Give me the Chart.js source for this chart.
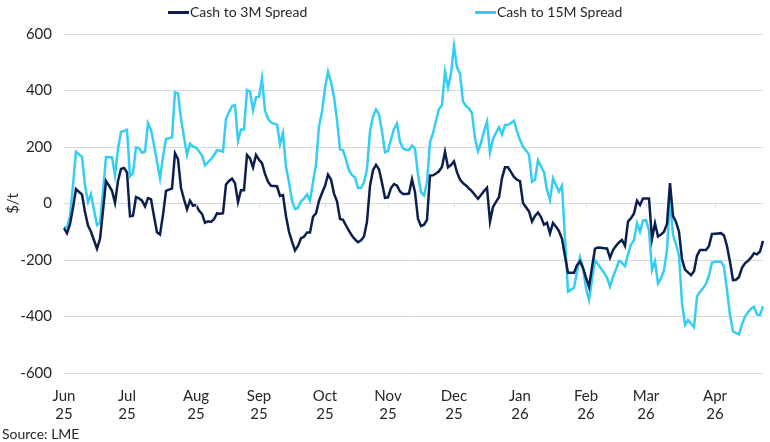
<!DOCTYPE html>
<html>
<head>
<meta charset="utf-8">
<script src="https://cdn.jsdelivr.net/npm/chart.js@4.4.1/dist/chart.umd.min.js"></script>
<style>
  body { margin: 0; background: #fff; }
  #wrap { position: relative; width: 770px; height: 442px; font-family: Lato, 'Liberation Sans', sans-serif; color: #262626; }
  .lg { position: absolute; top: 3px; font-size: 14px; line-height: 18px; white-space: nowrap; }
  .lg i { display: inline-block; width: 21px; height: 3px; vertical-align: middle; margin-right: 1px; position: relative; top: -1px; }
  #src { position: absolute; left: 2px; top: 426px; font-size: 14px; line-height: 16px; }
</style>
</head>
<body>
<div id="wrap">
  <canvas id="chart"></canvas>
  <div class="lg" style="left:168px"><i style="background:#0b1f4e"></i>Cash to 3M Spread</div>
  <div class="lg" style="left:475px"><i style="background:#36cdf4"></i>Cash to 15M Spread</div>
  <div id="src">Source: LME</div>
</div>
<script>
const monthLabels = [["Jun", "25"], ["Jul", "25"], ["Aug", "25"], ["Sep", "25"], ["Oct", "25"], ["Nov", "25"], ["Dec", "25"], ["Jan", "26"], ["Feb", "26"], ["Mar", "26"], ["Apr", "26"]];
// trading days shown in each month
const monthDays = [21, 23, 21, 22, 21, 22, 22, 22, 20, 23, 17];

const spread3M = [
  -87, -105, -73, -15, 51, 41, 32, -30, -78, -100,
  -130, -160, -126, -25, 80, 63, 45, 2, 80, 122,
  126, 110, -45, -43, 23, 18, 10, -10, 19, 15,
  -45, -102, -110, -40, 45, 49, 53, 178, 157, 55,
  15, -21, 10, -8, -5, -25, -37, -68, -63, -65,
  -56, -35, -36, -34, 67, 80, 88, 72, 5, 47,
  47, 172, 160, 128, 172, 155, 143, 105, 77, 63,
  62, 61, 27, 30, -45, -100, -135, -166, -150, -123,
  -118, -103, -103, -47, -35, 9, 37, 62, 102, 85,
  35, 8, -55, -58, -78, -97, -114, -127, -137, -130,
  -117, -65, 62, 118, 137, 121, 73, 20, 22, 55,
  69, 63, 43, 34, 34, 35, 86, 40, -55, -80,
  -75, -58, 99, 100, 106, 114, 130, 183, 128, 136,
  149, 110, 85, 72, 64, 53, 43, 30, 17, 30,
  44, 56, -64, -12, 6, 22, 90, 128, 128, 111,
  94, 84, 79, 2, -13, -28, -64, -44, -32, -48,
  -75, -68, -106, -69, -82, -98, -125, -187, -245, -245,
  -245, -218, -205, -228, -262, -295, -225, -160, -156, -157,
  -158, -159, -192, -165, -150, -138, -129, -150, -64, -52,
  -35, 10, -5, 18, 18, 18, -125, -70, -117, -110,
  -100, -72, 72, -44, -65, -100, -197, -234, -244, -254,
  -240, -185, -165, -165, -165, -150, -108, -107, -106, -105,
  -113, -151, -207, -271, -270, -260, -228, -212, -203, -192,
  -176, -180, -170, -132
];

const spread15M = [
  -84, -84, -45, 66, 183, 174, 165, 64, 5, 34,
  -24, -76, -68, 42, 165, 164, 163, 100, 192, 253,
  257, 261, 96, 107, 198, 196, 180, 184, 285, 261,
  207, 148, 89, 166, 228, 231, 234, 394, 390, 300,
  235, 172, 212, 201, 198, 185, 170, 135, 146, 157,
  171, 189, 187, 183, 300, 323, 345, 348, 222, 262,
  262, 402, 396, 330, 376, 378, 443, 329, 300, 287,
  283, 279, 210, 250, 130, 75, 10, -20, -15, 8,
  17, 32, 10, 75, 137, 273, 325, 408, 467, 430,
  378, 295, 192, 188, 155, 118, 100, 92, 55, 55,
  75, 121, 255, 308, 333, 315, 255, 181, 186, 228,
  264, 283, 218, 196, 189, 189, 205, 195, 101, 40,
  28, 75, 218, 248, 293, 335, 348, 467, 410, 460,
  558, 482, 460, 360, 345, 337, 320, 230, 185, 215,
  255, 290, 180, 229, 250, 270, 244, 278, 278, 285,
  293, 255, 225, 201, 188, 173, 77, 85, 153, 132,
  110, 48, 12, 89, 65, 42, 63, -125, -312, -305,
  -298, -240, -190, -228, -300, -341, -270, -201, -215, -230,
  -245, -262, -294, -260, -233, -203, -210, -222, -180, -145,
  -130, -70, -100, -60, -59, -95, -236, -205, -283, -265,
  -236, -165, 18, -111, -145, -185, -350, -430, -413, -425,
  -438, -330, -312, -300, -285, -255, -209, -206, -206, -206,
  -223, -308, -395, -452, -459, -463, -428, -400, -385, -372,
  -365, -393, -395, -363
];

const yTicks = [-600, -400, -200, 0, 200, 400, 600];

// one category per trading day, month label on its first day
const labels = [];
const monthStart = {};
monthDays.forEach((n, m) => {
  monthStart[labels.length] = m;
  for (let d = 0; d < n; d++) labels.push(monthLabels[m].join(" ") + " #" + (d + 1));
});

const FONT = "Lato, 'Liberation Sans', sans-serif";

const zeroTicks = {
  id: "zeroTicks",
  afterDatasetsDraw(chart) {
    const { ctx, scales: { x, y } } = chart;
    const y0 = y.getPixelForValue(0);
    ctx.save();
    ctx.strokeStyle = "#d9d9d9";
    ctx.lineWidth = 1;
    Object.keys(monthStart).forEach((i) => {
      if (+i === 0) return;
      const px = Math.round(x.getPixelForValue(+i)) + 0.5;
      ctx.beginPath();
      ctx.moveTo(px, y0);
      ctx.lineTo(px, y0 + 4);
      ctx.stroke();
    });
    ctx.restore();
  },
};

new Chart(document.getElementById("chart"), {
  type: "line",
  data: {
    labels: labels,
    datasets: [
      {
        label: "Cash to 3M Spread",
        data: spread3M,
        borderColor: "#0b1f4e",
        borderWidth: 2.5,
        pointRadius: 0,
        tension: 0,
        fill: false,
      },
      {
        label: "Cash to 15M Spread",
        data: spread15M,
        borderColor: "#36cdf4",
        borderWidth: 2.5,
        pointRadius: 0,
        tension: 0,
        fill: false,
      },
    ],
  },
  options: {
    responsive: true,
    maintainAspectRatio: false,
    animation: false,
    layout: { padding: { top: 34, right: 7, bottom: 0, left: 0 } },
    scales: {
      x: {
        grid: { display: false },
        border: { display: false },
        afterFit: (s) => { s.height = 69; },
        ticks: {
          autoSkip: false,
          maxRotation: 0,
          padding: 6,
          color: "#262626",
          font: { family: FONT, size: 15 },
          callback: (v, i) => (monthStart[i] !== undefined ? monthLabels[monthStart[i]] : ""),
        },
      },
      y: {
        min: -600,
        max: 600,
        afterFit: (s) => { s.width = 64; },
        afterBuildTicks: (s) => { s.ticks = yTicks.map((v) => ({ value: v })); },
        grid: { color: "#d9d9d9", lineWidth: 1, drawTicks: false },
        border: { display: false },
        ticks: {
          padding: 12,
          color: "#262626",
          font: { family: FONT, size: 15 },
        },
        title: {
          display: true,
          text: "$/t",
          color: "#262626",
          padding: { top: 4, bottom: 0 },
          font: { family: FONT, size: 15 },
        },
      },
    },
    plugins: {
      legend: { display: false },
      tooltip: { enabled: false },
    },
  },
  plugins: [zeroTicks],
});
</script>
</body>
</html>
